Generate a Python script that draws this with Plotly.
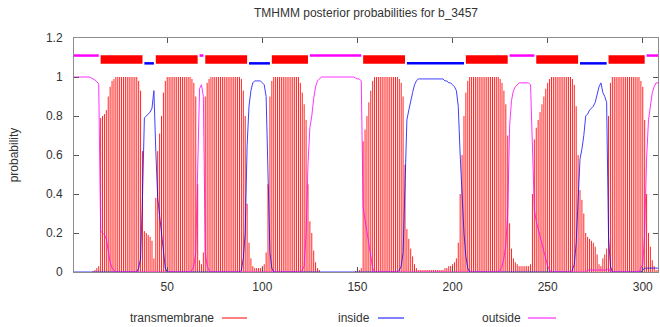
import plotly.graph_objects as go

# ---------------- data ----------------
residues = list(range(1, 309))

transmembrane = [
    0, 0, 0, 0, 0, 0, 0, 0, 0, 0,
    0.005, 0.01, 0.02, 0.03, 0.79, 0.80, 0.81, 0.83, 0.90, 0.95,
    0.98, 0.99, 1, 1, 1, 1, 1, 1, 1, 1,
    1, 1, 1, 1, 0.98, 0.93, 0.62, 0.21, 0.20, 0.19,
    0.18, 0.16, 0.07, 0.38, 0.62, 0.71, 0.80, 0.92, 0.98, 1,
    1, 1, 1, 1, 1, 1, 1, 1, 1, 1,
    1, 1, 0.99, 0.97, 0.90, 0.45, 0.06, 0.04, 0.10, 0.90,
    0.97, 0.99, 1, 1, 1, 1, 1, 1, 1, 1,
    1, 1, 1, 1, 1, 1, 1, 1, 0.99, 0.93,
    0.80, 0.35, 0.15, 0.07, 0.03, 0.02, 0.02, 0.02, 0.02, 0.03,
    0.04, 0.10, 0.45, 0.90, 0.98, 1, 1, 1, 1, 1,
    1, 1, 1, 1, 1, 1, 1, 1, 1, 0.97,
    0.92, 0.86, 0.78, 0.45, 0.26, 0.20, 0.11, 0.05, 0.02, 0.01,
    0, 0, 0, 0, 0, 0, 0, 0, 0, 0,
    0, 0, 0, 0, 0, 0, 0, 0, 0.005, 0.01,
    0.01, 0.02, 0.67, 0.73, 0.80, 0.87, 0.93, 0.98, 1, 1,
    1, 1, 1, 1, 1, 1, 1, 1, 1, 1,
    1, 0.99, 0.97, 0.90, 0.55, 0.22, 0.17, 0.12, 0.08, 0.04,
    0.02, 0.01, 0.01, 0.01, 0.01, 0.01, 0.01, 0.01, 0.01, 0.01,
    0.01, 0.01, 0.01, 0.01, 0.01, 0.02, 0.02, 0.03, 0.03, 0.04,
    0.05, 0.07, 0.15, 0.40, 0.60, 0.80, 0.92, 0.98, 1, 1,
    1, 1, 1, 1, 1, 1, 1, 1, 1, 1,
    1, 1, 1, 1, 0.99, 0.97, 0.93, 0.86, 0.70, 0.25,
    0.12, 0.07, 0.05, 0.04, 0.03, 0.03, 0.03, 0.03, 0.03, 0.03,
    0.04, 0.40, 0.68, 0.74, 0.78, 0.82, 0.86, 0.90, 0.94, 0.97,
    0.99, 1, 1, 1, 1, 1, 1, 1, 1, 1,
    1, 1, 0.99, 0.96, 0.85, 0.60, 0.42, 0.37, 0.30, 0.20,
    0.18, 0.17, 0.16, 0.15, 0.13, 0.09, 0.04, 0.03, 0.07, 0.09,
    0.12, 0.80, 0.97, 1, 1, 1, 1, 1, 1, 1,
    1, 1, 1, 1, 1, 1, 1, 1, 0.98, 0.95,
    0.78, 0.40, 0.20, 0.13, 0.06, 0.03, 0.01, 0.01,
]

inside = [
    0, 0, 0, 0, 0, 0, 0, 0, 0, 0,
    0, 0, 0, 0, 0, 0, 0, 0, 0, 0,
    0, 0, 0, 0, 0, 0, 0, 0, 0, 0,
    0, 0, 0, 0, 0.02, 0.07, 0.38, 0.79, 0.80, 0.81,
    0.82, 0.84, 0.93, 0.62, 0.38, 0.29, 0.20, 0.08, 0.02, 0,
    0, 0, 0, 0, 0, 0, 0, 0, 0, 0,
    0, 0, 0, 0, 0, 0, 0, 0, 0, 0,
    0, 0, 0, 0, 0, 0, 0, 0, 0, 0,
    0, 0, 0, 0, 0, 0, 0, 0, 0.01, 0.07,
    0.20, 0.65, 0.85, 0.93, 0.97, 0.98, 0.98, 0.98, 0.98, 0.97,
    0.96, 0.90, 0.55, 0.10, 0.02, 0, 0, 0, 0, 0,
    0, 0, 0, 0, 0, 0, 0, 0, 0, 0,
    0, 0, 0, 0, 0, 0, 0, 0, 0, 0,
    0, 0, 0, 0, 0, 0, 0, 0, 0, 0,
    0, 0, 0, 0, 0, 0, 0, 0, 0, 0,
    0, 0, 0, 0, 0, 0, 0, 0, 0, 0,
    0, 0, 0, 0, 0, 0, 0, 0, 0, 0,
    0, 0.01, 0.03, 0.10, 0.45, 0.78, 0.83, 0.88, 0.92, 0.96,
    0.98, 0.99, 0.99, 0.99, 0.99, 0.99, 0.99, 0.99, 0.99, 0.99,
    0.99, 0.99, 0.99, 0.99, 0.99, 0.98, 0.98, 0.97, 0.97, 0.96,
    0.95, 0.93, 0.85, 0.60, 0.40, 0.20, 0.08, 0.02, 0, 0,
    0, 0, 0, 0, 0, 0, 0, 0, 0, 0,
    0, 0, 0, 0, 0, 0, 0, 0, 0, 0,
    0, 0, 0, 0, 0, 0, 0, 0, 0, 0,
    0, 0, 0, 0, 0, 0, 0, 0, 0, 0,
    0, 0, 0, 0, 0, 0, 0, 0, 0, 0,
    0, 0, 0.01, 0.04, 0.15, 0.40, 0.58, 0.63, 0.70, 0.80,
    0.81, 0.83, 0.84, 0.85, 0.87, 0.91, 0.95, 0.97, 0.92, 0.90,
    0.87, 0.18, 0.03, 0, 0, 0, 0, 0, 0, 0,
    0, 0, 0, 0, 0, 0, 0, 0, 0, 0.01,
    0.02, 0.02, 0.02, 0.02, 0.02, 0.02, 0.02, 0.02,
]

outside = [
    1, 1, 1, 1, 1, 1, 1, 1, 1, 0.995,
    0.99, 0.985, 0.975, 0.965, 0.21, 0.20, 0.19, 0.17, 0.10, 0.05,
    0.02, 0.01, 0, 0, 0, 0, 0, 0, 0, 0,
    0, 0, 0, 0, 0, 0, 0, 0, 0, 0,
    0, 0, 0, 0, 0, 0, 0, 0, 0, 0,
    0, 0, 0, 0, 0, 0, 0, 0, 0, 0,
    0, 0, 0.01, 0.03, 0.10, 0.55, 0.94, 0.96, 0.90, 0.10,
    0.03, 0.01, 0, 0, 0, 0, 0, 0, 0, 0,
    0, 0, 0, 0, 0, 0, 0, 0, 0, 0,
    0, 0, 0, 0, 0, 0, 0, 0, 0, 0,
    0, 0, 0, 0, 0, 0, 0, 0, 0, 0,
    0, 0, 0, 0, 0, 0, 0, 0, 0, 0,
    0.01, 0.03, 0.20, 0.55, 0.74, 0.80, 0.89, 0.95, 0.98, 0.99,
    1, 1, 1, 1, 1, 1, 1, 1, 1, 1,
    1, 1, 1, 1, 1, 1, 1, 1, 0.995, 0.99,
    0.99, 0.98, 0.33, 0.27, 0.20, 0.13, 0.07, 0.02, 0, 0,
    0, 0, 0, 0, 0, 0, 0, 0, 0, 0,
    0, 0, 0, 0, 0, 0, 0, 0, 0, 0,
    0, 0, 0, 0, 0, 0, 0, 0, 0, 0,
    0, 0, 0, 0, 0, 0, 0, 0, 0, 0,
    0, 0, 0, 0, 0, 0, 0, 0, 0, 0,
    0, 0, 0, 0, 0, 0, 0, 0, 0, 0,
    0, 0, 0, 0, 0.01, 0.03, 0.07, 0.14, 0.30, 0.75,
    0.88, 0.93, 0.95, 0.96, 0.97, 0.97, 0.97, 0.97, 0.97, 0.97,
    0.96, 0.60, 0.32, 0.26, 0.22, 0.18, 0.14, 0.10, 0.06, 0.03,
    0.01, 0, 0, 0, 0, 0, 0, 0, 0, 0,
    0, 0, 0, 0, 0, 0, 0, 0, 0, 0,
    0.01, 0.01, 0.01, 0.01, 0.01, 0.01, 0.01, 0.01, 0.01, 0.01,
    0.01, 0.02, 0, 0, 0, 0, 0, 0, 0, 0,
    0, 0, 0, 0, 0, 0, 0, 0, 0.02, 0.04,
    0.20, 0.58, 0.78, 0.85, 0.92, 0.95, 0.97, 0.97,
]

# predicted topology segments
seg_types = ["outside", "TMhelix", "inside", "TMhelix", "outside", "TMhelix",
             "inside", "TMhelix", "outside", "TMhelix", "inside", "TMhelix",
             "outside", "TMhelix", "inside", "TMhelix", "outside"]
seg_starts = [1, 15, 38, 44, 67, 70, 93, 105, 125, 153, 176, 207, 230, 244, 267, 282, 302]
seg_ends = [14, 37, 43, 66, 69, 92, 104, 124, 152, 175, 206, 229, 243, 266, 281, 301, 308]

x_ticks = [50, 100, 150, 200, 250, 300]
y_ticks = [0, 0.2, 0.4, 0.6, 0.8, 1, 1.2]
title_text = "TMHMM posterior probabilities for b_3457"
legend_names = ["transmembrane", "inside", "outside"]

# ---------------- style ----------------
RED, BLUE, MAG = "#ff0000", "#0000ff", "#ff00ff"
FONT = "Liberation Sans, Arial, sans-serif"
TXT = "#333333"
L, R, T, B = 74, 2, 38, 55
W, H = 660, 327
PW, PH = W - L - R, H - T - B

fig = go.Figure()

# transmembrane posterior drawn as impulses (one vertical stroke per residue)
imp_x, imp_y = [], []
for r, p in zip(residues, transmembrane):
    imp_x += [r, r, None]
    imp_y += [0, p, None]
fig.add_trace(go.Scatter(x=imp_x, y=imp_y, mode="lines",
                         line=dict(color=RED, width=1), opacity=0.85,
                         name="transmembrane", showlegend=False))
fig.add_trace(go.Scatter(x=residues, y=inside, mode="lines",
                         line=dict(color=BLUE, width=1), opacity=0.75,
                         name="inside", showlegend=False))
fig.add_trace(go.Scatter(x=residues, y=outside, mode="lines",
                         line=dict(color=MAG, width=1), opacity=0.8,
                         name="outside", showlegend=False))

# topology bars on top
levels = {"TMhelix": 1.09, "inside": 1.07, "outside": 1.11}
widths = {"TMhelix": 8.5, "inside": 2.5, "outside": 2.5}
colors = {"TMhelix": RED, "inside": BLUE, "outside": MAG}
for kind in ["inside", "outside", "TMhelix"]:
    xs, ys = [], []
    for t, s, e in zip(seg_types, seg_starts, seg_ends):
        if t == kind:
            xs += [s, e, None]
            ys += [levels[kind], levels[kind], None]
    fig.add_trace(go.Scatter(x=xs, y=ys, mode="lines",
                             line=dict(color=colors[kind], width=widths[kind]),
                             showlegend=False, hoverinfo="skip"))

axis_common = dict(showgrid=False, zeroline=False, showline=True,
                   linecolor="#8c8c8c", linewidth=1, mirror="ticks",
                   ticks="inside", ticklen=5, tickcolor="#555555",
                   tickfont=dict(family=FONT, size=12, color=TXT))

fig.update_layout(
    width=W, height=H,
    margin=dict(l=L, r=R, t=T, b=B, autoexpand=False),
    paper_bgcolor="white", plot_bgcolor="white",
    title=dict(text=title_text, x=0.5, xref="paper", xanchor="center",
               y=1 - 13 / H, yref="container", yanchor="middle",
               font=dict(family=FONT, size=12, color=TXT)),
    xaxis=dict(range=[1, 308], tickvals=x_ticks, ticklabelstandoff=4,
               **axis_common),
    yaxis=dict(range=[0, 1.2], tickvals=y_ticks, ticklabelstandoff=8,
               title=dict(text="probability", standoff=24,
                          font=dict(family=FONT, size=12, color=TXT)),
               **axis_common),
)

# legend (text before sample line, as in the original)
leg_y = 318
leg_text_right = [216, 372, 523]
leg_line = [(222, 247), (378, 404), (528, 556)]
leg_colors = [RED, BLUE, MAG]
for name, xr, (x0, x1), c in zip(legend_names, leg_text_right, leg_line, leg_colors):
    fig.add_annotation(text=name, xref="paper", yref="paper",
                       x=(xr - L) / PW, y=(T + PH - leg_y) / PH,
                       xanchor="right", yanchor="middle", showarrow=False,
                       font=dict(family=FONT, size=12, color=TXT))
    fig.add_shape(type="line", xref="paper", yref="paper",
                  x0=(x0 - L) / PW, x1=(x1 - L) / PW,
                  y0=(T + PH - leg_y) / PH, y1=(T + PH - leg_y) / PH,
                  line=dict(color=c, width=1))

fig.write_html("out.html")
